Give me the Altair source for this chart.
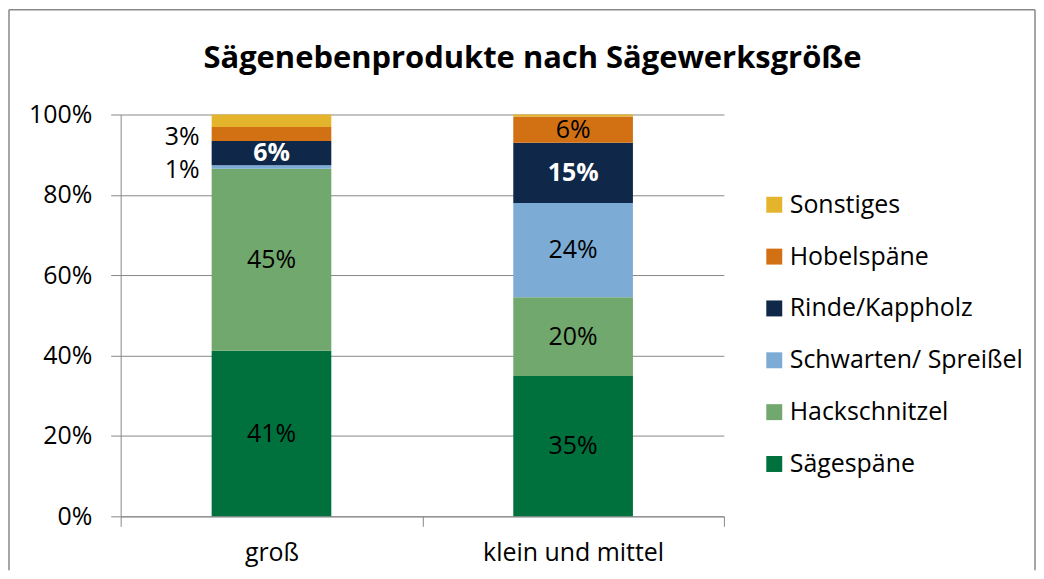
import altair as alt
import pandas as pd

title_text = "Sägenebenprodukte nach Sägewerksgröße"
categories = ["groß", "klein und mittel"]
segments = ["Sägespäne", "Hackschnitzel", "Schwarten/ Spreißel", "Rinde/Kappholz", "Hobelspäne", "Sonstiges"]
values_gross = [41.2, 45.3, 0.9, 6.0, 3.5, 3.1]
values_klein = [34.9, 19.6, 23.5, 15.0, 6.5, 0.5]
labels_gross = ["41%", "45%", "1%", "6%", "3%", ""]
labels_klein = ["35%", "20%", "24%", "15%", "6%", ""]
colors = ["#00703C", "#71A86D", "#7CACD6", "#0F2748", "#D17114", "#E4B42C"]
y_ticks = [0, 20, 40, 60, 80, 100]

rows = []
for cat, vals, labs in [(categories[0], values_gross, labels_gross),
                        (categories[1], values_klein, labels_klein)]:
    for i, (seg, v, lab) in enumerate(zip(segments, vals, labs)):
        rows.append({"category": cat, "segment": seg, "order": i, "value": v, "label": lab})
df = pd.DataFrame(rows)

W, H = 605, 403
FONT = "Open Sans"
GRAY = "#888888"
FS = 25

x_axis = alt.Axis(title=None, labelAngle=0, tickBand="extent", domainColor=GRAY, tickColor=GRAY,
                  tickSize=10, labelFontSize=FS, labelFont=FONT, labelColor="#000000",
                  labelPadding=14, labelLimit=400, grid=False)
y_axis = alt.Axis(title=None, values=y_ticks, labelExpr="datum.value + '%'", domainColor=GRAY,
                  tickColor=GRAY, tickSize=10, labelFontSize=FS, labelFont=FONT,
                  labelColor="#000000", labelPadding=19, grid=True, gridColor=GRAY)

X = alt.X("category:N", sort=categories, scale=alt.Scale(paddingInner=0, paddingOuter=0), axis=x_axis)
yscale = alt.Scale(domain=[0, 100], nice=False)

base = alt.Chart(df).transform_stack(
    stack="value", groupby=["category"], as_=["y0", "y1"],
    sort=[alt.SortField("order", "ascending")]
).transform_calculate(mid="(datum.y0 + datum.y1) / 2")

bars = base.mark_bar(size=120).encode(
    x=X,
    y=alt.Y("y0:Q", scale=yscale, axis=y_axis),
    y2="y1:Q",
    color=alt.Color("segment:N",
                    scale=alt.Scale(domain=segments[::-1], range=colors[::-1]),
                    legend=alt.Legend(title=None, orient="none", legendX=643, legendY=78,
                                      symbolType="square", symbolSize=256, symbolStrokeWidth=0,
                                      labelFontSize=FS, labelFont=FONT, labelColor="#000000",
                                      rowPadding=26, labelOffset=3, labelLimit=400)),
    order=alt.Order("order:Q"),
)

txt_black = base.transform_filter(
    "datum.label != '' && datum.value >= 4 && datum.segment != 'Rinde/Kappholz'"
).mark_text(font=FONT, fontSize=FS, color="#000000").encode(
    x=X, y=alt.Y("mid:Q", scale=yscale, axis=y_axis), text="label:N")

txt_white = base.transform_filter(
    "datum.label != '' && datum.segment == 'Rinde/Kappholz'"
).mark_text(font=FONT, fontSize=FS, fontWeight="bold", color="#FFFFFF").encode(
    x=X, y=alt.Y("mid:Q", scale=yscale, axis=y_axis), text="label:N")

txt_out = base.transform_filter(
    "datum.label != '' && datum.value < 4"
).mark_text(font=FONT, fontSize=FS, color="#000000", align="right", dx=-72, dy=3).encode(
    x=X, y=alt.Y("mid:Q", scale=yscale, axis=y_axis), text="label:N")

frame_df = pd.DataFrame({"title": [title_text]})
border_left = alt.Chart(frame_df).mark_rule(color=GRAY, strokeWidth=1.5).encode(
    x=alt.value(-112), y=alt.value(-105), y2=alt.value(457))
border_right = alt.Chart(frame_df).mark_rule(color=GRAY, strokeWidth=1.5).encode(
    x=alt.value(917), y=alt.value(-105), y2=alt.value(457))
border_top = alt.Chart(frame_df).mark_rule(color=GRAY, strokeWidth=1.5).encode(
    x=alt.value(-112), x2=alt.value(917), y=alt.value(-105))
title_mark = alt.Chart(frame_df).mark_text(
    font=FONT, fontSize=31, fontWeight="bold", color="#000000", align="center", baseline="alphabetic"
).encode(x=alt.value(413), y=alt.value(-47), text="title:N")

chart = alt.layer(bars, txt_black, txt_white, txt_out, border_left, border_right, border_top,
                  title_mark).properties(
    width=W, height=H, padding=0, background="white",
).configure_view(stroke=None)

chart.save("out.html", embed_options={"renderer": "svg", "actions": False})
